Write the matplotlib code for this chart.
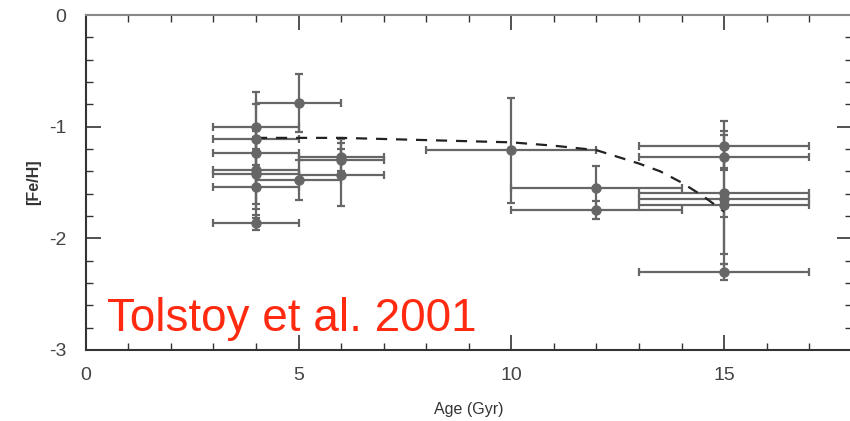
import matplotlib.pyplot as plt
from matplotlib.ticker import MultipleLocator

plt.rcParams['font.family'] = ['Liberation Sans', 'DejaVu Sans']
plt.rcParams['axes.unicode_minus'] = False

# age (Gyr), [Fe/H], age error, metallicity error
age = [4, 4, 4, 4, 4, 4, 4, 5, 5, 6, 6, 6, 10, 12, 12, 15, 15, 15, 15, 15, 15]
feh = [-1.00, -1.11, -1.24, -1.39, -1.42, -1.54, -1.86, -0.79, -1.48, -1.27, -1.30, -1.43,
       -1.21, -1.55, -1.75, -1.17, -1.27, -1.59, -1.65, -1.70, -2.30]
age_err = [1, 1, 1, 1, 1, 1, 1, 1, 1, 1, 1, 1, 2, 2, 2, 2, 2, 2, 2, 2, 2]
feh_err = [0.20, 0.42, 0.20, 0.30, 0.40, 0.20, 0.07, 0.26, 0.18, 0.16, 0.10, 0.28,
           0.47, 0.20, 0.08, 0.22, 0.10, 0.55, 0.58, 0.11, 0.07]

# dashed model track
model_age = [4, 6, 8, 10, 11, 12, 12.5, 13, 13.5, 14, 14.5, 15]
model_feh = [-1.10, -1.10, -1.12, -1.14, -1.17, -1.21, -1.27, -1.33, -1.40, -1.50, -1.62, -1.76]

fig = plt.figure(figsize=(8.5, 4.21), dpi=100)
ax = fig.add_axes([0.101, 0.169, 0.901, 0.795])

grey = '#666666'
ax.errorbar(age, feh, xerr=age_err, yerr=feh_err, fmt='o', color=grey, ms=6.5,
            elinewidth=1.6, capsize=3, capthick=1.6)
ax.plot(model_age, model_feh, '--', color='#222222', lw=1.6, dashes=(5, 4))

ax.set_xlim(0, 18)
ax.set_ylim(-3, 0)
ax.xaxis.set_major_locator(MultipleLocator(5))
ax.xaxis.set_minor_locator(MultipleLocator(1))
ax.yaxis.set_major_locator(MultipleLocator(1))
ax.yaxis.set_minor_locator(MultipleLocator(0.2))
ax.tick_params(which='both', direction='in', top=True, right=True, color='#333333')
ax.tick_params(which='major', length=11, width=1.2, labelsize=14, labelcolor='#444444')
ax.tick_params(axis='x', which='major', pad=12)
ax.tick_params(axis='y', which='major', pad=14)
ax.tick_params(which='minor', length=5, width=1)
for side in ['left', 'bottom']:
    ax.spines[side].set_color('#333333')
    ax.spines[side].set_linewidth(1.5)
for side in ['top', 'right']:
    ax.spines[side].set_color('#888888')
    ax.spines[side].set_linewidth(1.5)

ax.set_xlabel('Age (Gyr)', fontsize=11.5, color='#333333', labelpad=13)
ax.set_ylabel('[Fe/H]', fontsize=11.5, fontweight='bold', color='#333333', labelpad=6)

ax.text(0.5, -2.83, 'Tolstoy et al. 2001', fontsize=33, color='#ff2a10', va='baseline')

fig.savefig('out.png', dpi=100)
